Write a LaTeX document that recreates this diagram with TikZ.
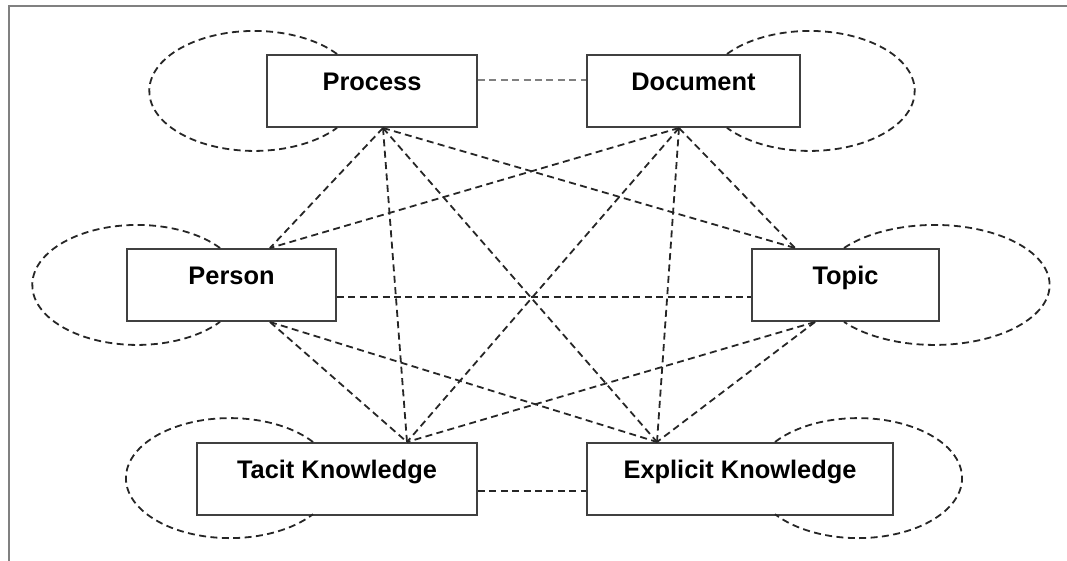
\documentclass[tikz,border=0pt]{standalone}
\usepackage{fontspec}
\setmainfont{Liberation Sans}
\usetikzlibrary{arrows,shapes}
\tikzstyle{entity}=[rectangle,draw=black!75,line width=1pt,fill=white,inner xsep=0pt,inner ysep=0pt,text height=18pt,text depth=18pt,font=\bfseries\fontsize{12.7}{15}\selectfont]
\tikzstyle{link}=[draw,line width=0.9pt,black!85,dash pattern=on 3.5pt off 2.2pt]
\tikzstyle{selfloop}=[draw,line width=0.9pt,black!85,dash pattern=on 3.5pt off 2.2pt]
\tikzstyle{frame}=[draw,gray,line width=1pt]

\begin{document}
\begin{tikzpicture}[x=0.5pt,y=-0.5pt]

    \useasboundingbox (0,0) rectangle (1067,561);
    \draw[frame] (9,570) |- (1080,6);

     \foreach \x/\y/\name/\w/\txt in {372/91/Process/105/Process, 693.5/91/Document/106.5/Document,
        231.5/285/Person/104.5/Person, 845.5/285/Topic/93.5/Topic,
        337/479/Tacit/140/Tacit Knowledge, 740/479/Explicit/153/Explicit Knowledge}
        \node[entity, minimum width=\w pt] (\name) at (\x,\y) {\txt};

    % loops round each box
    \foreach \name/\sx/\sa/\ea/\rx in {Process/-17.5/38/322/52.5, Document/16.75/142/-142/52.5,
        Person/-5.75/38/322/52.5, Topic/-0.75/142/-142/57.5,
        Tacit/-12/37/323/52, Explicit/17.5/143/-143/52}
        \draw[selfloop] ([xshift=\sx pt]\name.north) arc[start angle=\sa, end angle=\ea, x radius=\rx pt, y radius=30pt];

    % rows
    \path[link, gray] ([yshift=5.5pt]Process.east) -- ([yshift=5.5pt]Document.west);
    \path[link] ([yshift=-6pt]Person.east) -- ([yshift=-6pt]Topic.west);
    \path[link] ([yshift=-6pt]Tacit.east) -- ([yshift=-6pt]Explicit.west);

    % crossing links
    \foreach \source/\sx/\dest/\dx in {Process/5.5/Person/19.25, Process/5.5/Topic/-25.25,
        Process/5.5/Tacit/35, Process/5.5/Explicit/-41.5,
        Document/-7.25/Person/19.25, Document/-7.25/Topic/-25.25,
        Document/-7.25/Tacit/35, Document/-7.25/Explicit/-41.5,
        Person/19.25/Tacit/35, Person/19.25/Explicit/-41.5,
        Topic/-15.25/Tacit/35, Topic/-15.25/Explicit/-41.5}
        \path[link] ([xshift=\sx pt]\source.south) -- ([xshift=\dx pt]\dest.north);

\end{tikzpicture}
\end{document}
